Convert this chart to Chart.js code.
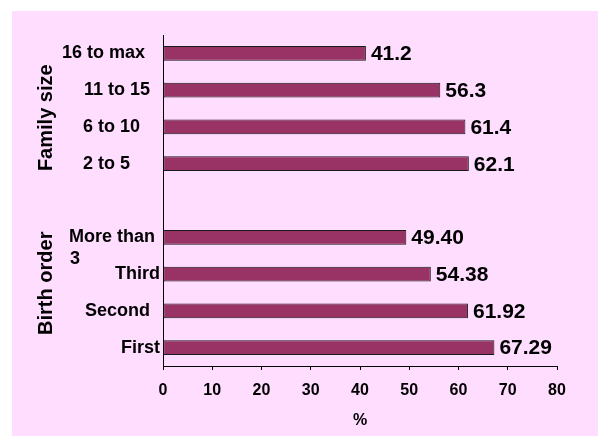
<!DOCTYPE html>
<html>
<head>
<meta charset="utf-8">
<script src="https://cdn.jsdelivr.net/npm/chart.js@4"></script>
<style>
    html, body { margin: 0; padding: 0; background: #ffffff; }
    #cadre {
        position: absolute;
        left: 12px;
        top: 11px;
        width: 586px;
        height: 425px;
        background: #ffddff;
    }
</style>
</head>
<body>
<div id="cadre"><canvas id="graphique"></canvas></div>
<script>
// ===========================
// Données
// ===========================
const categories = ['16 to max', '11 to 15', '6 to 10', '2 to 5', '', ['More than', '3'], 'Third', 'Second', 'First'];
const valeurs = [41.2, 56.3, 61.4, 62.1, null, 49.40, 54.38, 61.92, 67.29];
const decimales = [1, 1, 1, 1, 0, 2, 2, 2, 2];
const groupes = ['Family size', 'Birth order'];
const ticksX = [0, 10, 20, 30, 40, 50, 60, 70, 80];

// décalage des étiquettes (en espaces), comme dans l'original
const retraits = [3, 2, 4, 6, 0, [1, 16], 0, 2, 0];

const police = '"Liberation Sans", Arial, sans-serif';
Chart.defaults.font.family = police;
Chart.defaults.color = '#000';

// ===========================
// Étiquettes de valeurs à droite des barres
// ===========================
const etiquettesValeurs = {
    id: 'etiquettesValeurs',
    afterDatasetsDraw(chart) {
        const ctx = chart.ctx;
        const meta = chart.getDatasetMeta(0);
        ctx.save();
        ctx.font = 'bold 21px ' + police;
        ctx.fillStyle = '#000';
        ctx.textAlign = 'left';
        ctx.textBaseline = 'middle';
        meta.data.forEach((barre, i) => {
            if (valeurs[i] === null) return;
            ctx.fillText(valeurs[i].toFixed(decimales[i]), barre.x + 5, barre.y + 1);
        });
        ctx.restore();
    }
};

const ctx = document.getElementById('graphique').getContext('2d');
new Chart(ctx, {
    type: 'bar',
    data: {
        labels: categories,
        datasets: [{
            data: valeurs,
            backgroundColor: '#993366',
            borderColor: '#1a1a1a',
            borderWidth: 1,
            borderSkipped: false,
            categoryPercentage: 0.8,
            barPercentage: 0.5
        }]
    },
    options: {
        indexAxis: 'y',
        responsive: true,
        maintainAspectRatio: false,
        animation: false,
        layout: { padding: { left: 0, top: 24, right: 41, bottom: 0 } },
        plugins: {
            legend: { display: false },
            tooltip: { enabled: false }
        },
        scales: {
            x: {
                min: 0,
                max: 80,
                afterBuildTicks: s => { s.ticks = ticksX.map(v => ({ value: v })); },
                ticks: { padding: 11, font: { size: 16, weight: 'bold' }, color: '#000' },
                grid: { drawOnChartArea: false, tickLength: 4, color: '#000' },
                border: { color: '#000', width: 1 },
                title: {
                    display: true,
                    text: '%',
                    font: { size: 16, weight: 'bold' },
                    color: '#000',
                    padding: { top: 0, bottom: 6 }
                },
                afterFit: s => { s.height = 70; }
            },
            y: {
                weight: 0,
                grid: { display: false, drawTicks: false },
                border: { color: '#000', width: 1 },
                ticks: {
                    padding: 3,
                    font: { size: 18, weight: 'bold' },
                    color: '#000',
                    autoSkip: false,
                    callback: function (v, i) {
                        const lab = categories[i];
                        const r = retraits[i];
                        // étiquette sur deux lignes : la première ligne reste en face de la barre
                        if (Array.isArray(lab)) return [''].concat(lab.map((l, k) => l + ' '.repeat(r[k])));
                        return lab + ' '.repeat(r);
                    }
                },
                afterFit: s => { s.width = 107; }
            },
            y2: {
                type: 'category',
                labels: groupes,
                position: 'left',
                weight: 10,
                offset: true,
                grid: { display: false, drawTicks: false },
                border: { display: false },
                ticks: {
                    minRotation: 90,
                    maxRotation: 90,
                    crossAlign: 'center',
                    padding: -44,
                    autoSkip: false,
                    font: { size: 20, weight: 'bold' },
                    color: '#000'
                },
                afterFit: s => { s.width = 44; }
            }
        }
    },
    plugins: [etiquettesValeurs]
});
</script>
</body>
</html>
